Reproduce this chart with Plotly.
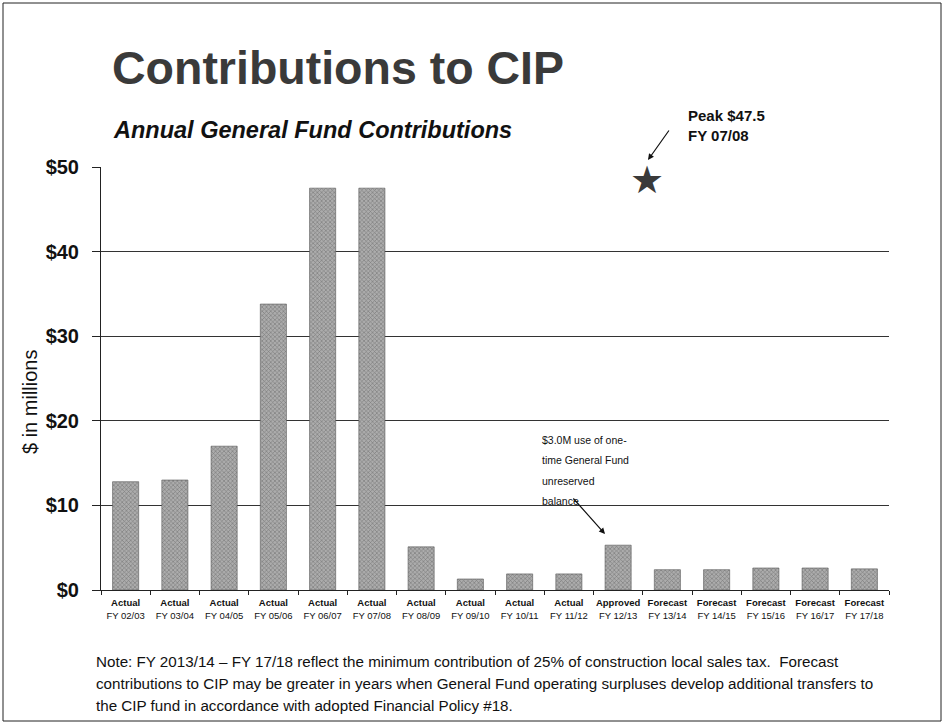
import plotly.graph_objects as go

# ---- data ----
stages = ["Actual", "Actual", "Actual", "Actual", "Actual", "Actual", "Actual", "Actual",
          "Actual", "Actual", "Approved", "Forecast", "Forecast", "Forecast", "Forecast", "Forecast"]
years = ["FY 02/03", "FY 03/04", "FY 04/05", "FY 05/06", "FY 06/07", "FY 07/08", "FY 08/09",
         "FY 09/10", "FY 10/11", "FY 11/12", "FY 12/13", "FY 13/14", "FY 14/15", "FY 15/16",
         "FY 16/17", "FY 17/18"]
contributions = [12.8, 13.0, 17.0, 33.8, 47.5, 47.5, 5.1, 1.3, 1.9, 1.9, 5.3, 2.4, 2.4, 2.6, 2.6, 2.5]
y_ticks = [0, 10, 20, 30, 40, 50]
y_tick_labels = ["$0", "$10", "$20", "$30", "$40", "$50"]

title_text = "Contributions to CIP"
subtitle_text = "Annual General Fund Contributions"
peak_text = "Peak $47.5<br>FY 07/08"
note_lines = [
    "$3.0M use of one-",
    "time General Fund",
    "unreserved",
    "balance",
]
footnote_lines = [
    "Note: FY 2013/14 \u2013 FY 17/18 reflect the minimum contribution of 25% of construction local sales tax.  Forecast",
    "contributions to CIP may be greater in years when General Fund operating surpluses develop additional transfers to",
    "the CIP fund in accordance with adopted Financial Policy #18.",
]

categories = [f"<b>{s}</b><br>{y}" for s, y in zip(stages, years)]

# ---- layout geometry ----
W, H = 944, 724
L, R, T, B = 101, 889, 167, 590


def px(x):
    return (x - L) / (R - L)


def py(y):
    return (B - y) / (B - T)


FONT = "Liberation Sans, Arial, sans-serif"

fig = go.Figure()
fig.add_trace(go.Bar(
    x=categories,
    y=contributions,
    marker=dict(
        color="#8f8f8f",
        line=dict(color="#555555", width=0.6),
        pattern=dict(shape="x", size=3, solidity=0.35, fgcolor="#444444", bgcolor="#acacac"),
    ),
    hoverinfo="x+y",
))

annotations = []
annotations.append(dict(text=f"<b>{title_text}</b>", x=px(110), y=py(68), xref="paper", yref="paper",
                        xanchor="left", yanchor="middle", showarrow=False,
                        font=dict(family=FONT, size=46.5, color="#3a3a3a")))
annotations.append(dict(text=f"<b><i>{subtitle_text}</i></b>", x=px(111), y=py(130), xref="paper", yref="paper",
                        xanchor="left", yanchor="middle", showarrow=False,
                        font=dict(family=FONT, size=23.5, color="#111111")))
annotations.append(dict(text=f"<b>{peak_text}</b>", x=px(686), y=py(125), xref="paper", yref="paper",
                        xanchor="left", yanchor="middle", align="left", showarrow=False,
                        font=dict(family=FONT, size=15, color="#111111")))
# star marker
annotations.append(dict(text="\u2605", x=px(647), y=py(180), xref="paper", yref="paper",
                        xanchor="center", yanchor="middle", showarrow=False,
                        font=dict(family="DejaVu Sans", size=38, color="#3a3a3a")))
# peak arrow
annotations.append(dict(text="", x=px(648), y=py(160), xref="paper", yref="paper",
                        ax=22, ay=-31, axref="pixel", ayref="pixel", showarrow=True,
                        arrowhead=2, arrowsize=1, arrowwidth=1.2, arrowcolor="#111111"))
# $3.0M note lines
for i, line in enumerate(note_lines):
    annotations.append(dict(text=line, x=px(540), y=py(440 + i * 20.3), xref="paper", yref="paper",
                            xanchor="left", yanchor="middle", showarrow=False,
                            font=dict(family=FONT, size=10.5, color="#111111")))
annotations.append(dict(text="", x=px(605), y=py(534), xref="paper", yref="paper",
                        ax=-33, ay=-37, axref="pixel", ayref="pixel", showarrow=True,
                        arrowhead=2, arrowsize=1, arrowwidth=1.2, arrowcolor="#111111"))
# y axis title
annotations.append(dict(text="$ in millions", x=px(30), y=py(402), xref="paper", yref="paper",
                        xanchor="center", yanchor="middle", textangle=-90, showarrow=False,
                        font=dict(family=FONT, size=20, color="#111111")))
# footnote
for i, line in enumerate(footnote_lines):
    annotations.append(dict(text=line, x=px(94), y=py(661 + i * 22), xref="paper", yref="paper",
                            xanchor="left", yanchor="middle", showarrow=False,
                            font=dict(family=FONT, size=15.2, color="#111111")))

shapes = [dict(type="rect", xref="paper", yref="paper",
               x0=px(3), x1=px(941), y0=py(721), y1=py(3),
               line=dict(color="#222222", width=1), fillcolor="rgba(0,0,0,0)")]

fig.update_layout(
    width=W, height=H,
    margin=dict(l=L, r=W - R, t=T, b=H - B, pad=0),
    paper_bgcolor="white", plot_bgcolor="white",
    showlegend=False,
    bargap=0.47,
    annotations=annotations,
    shapes=shapes,
    font=dict(family=FONT, color="#111111"),
)
fig.update_xaxes(
    type="category",
    showline=True, linecolor="#222222", linewidth=1,
    ticks="outside", ticklen=4, tickcolor="#222222", tickson="boundaries",
    tickfont=dict(family=FONT, size=9.5, color="#111111"),
    ticklabelstandoff=4,
    showgrid=False, tickangle=0,
)
fig.update_yaxes(
    range=[0, 50],
    tickvals=y_ticks, ticktext=y_tick_labels,
    showline=True, linecolor="#222222", linewidth=1,
    ticks="outside", ticklen=8, tickcolor="#222222",
    showgrid=True, gridcolor="#333333", gridwidth=1,
    zeroline=False,
    tickfont=dict(family=FONT, size=20, color="#111111", weight="bold"),
    ticklabelstandoff=9,
)

fig.write_html("out.html")
